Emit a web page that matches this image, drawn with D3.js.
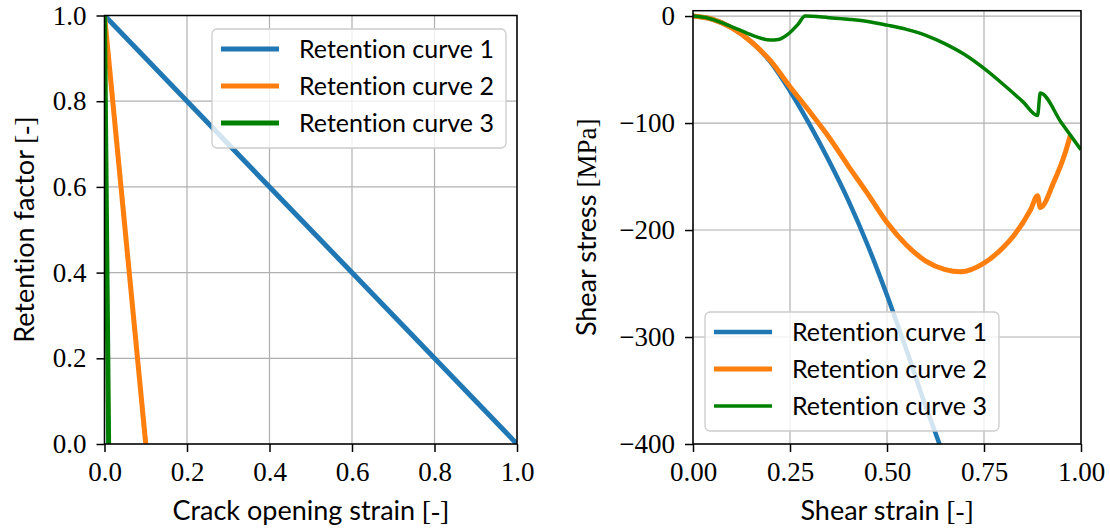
<!DOCTYPE html>
<html>
<head>
<meta charset="utf-8">
<script src="https://cdn.jsdelivr.net/npm/d3@7"></script>
<style>
  body { margin: 0; background: #fff; }
  text { font-variant-ligatures: none; font-feature-settings: "liga" 0; }
  .tick text { font-family: "Liberation Serif", serif; font-size: 27px; fill: #000; }
  .tick line { stroke: #000; stroke-width: 1.5; }
  .label { font-family: "Lato", sans-serif; font-size: 27px; fill: #000; }
  .label .br { font-family: "Liberation Serif", serif; }
  .legend text { font-family: "Lato", sans-serif; font-size: 25px; fill: #000; }
</style>
</head>
<body>
<div id="chart"></div>
<script>
const curveNames = ["Retention curve 1", "Retention curve 2", "Retention curve 3"];
const curveColors = ["#1f77b4", "#ff7f0e", "#008000"];

// left panel: retention factor vs crack opening strain
const retention1 = [[0, 1], [1, 0]];
const retention2 = [[0, 1], [0.1, 0]];
const retention3 = [[0, 1], [0.01, 0]];

// right panel: shear stress vs shear strain
const shear1 = [[0, 0], [0.05, -3], [0.1, -11], [0.15, -24], [0.2, -43], [0.25, -70],
  [0.3, -101], [0.35, -135], [0.4, -172], [0.45, -214], [0.5, -261], [0.55, -312],
  [0.6, -365], [0.635, -400], [0.65, -416]];
const shear2 = [[0, 0], [0.05, -3], [0.1, -11], [0.15, -24], [0.2, -42], [0.25, -66],
  [0.3, -89], [0.35, -113], [0.4, -140], [0.45, -166], [0.5, -193], [0.55, -214],
  [0.6, -229], [0.65, -237], [0.69, -239], [0.75, -231], [0.8, -216], [0.825, -206],
  [0.87, -181], [0.888, -168], [0.895, -179], [0.93, -155], [0.96, -127], [0.973, -111]];
const shear3 = [[0, 0], [0.04, -2], [0.08, -7], [0.12, -13], [0.16, -19], [0.2, -22.5],
  [0.22, -22], [0.245, -17], [0.27, -8], [0.289, 0], [0.35, -1.5], [0.4, -3],
  [0.45, -5], [0.5, -8.5], [0.55, -12.5], [0.6, -18], [0.65, -26], [0.7, -36],
  [0.75, -49], [0.8, -64], [0.85, -80], [0.888, -93], [0.895, -72], [0.95, -100], [1.0, -125]];

const leftXTicks = [0, 0.2, 0.4, 0.6, 0.8, 1.0];
const leftYTicks = [0, 0.2, 0.4, 0.6, 0.8, 1.0];
const rightXTicks = [0, 0.25, 0.5, 0.75, 1.0];
const rightYTicks = [0, -100, -200, -300, -400];

const svg = d3.select("#chart")
    .append("svg")
    .attr("width", 1110)
    .attr("height", 529);

function drawPanel(cfg) {
    const x = d3.scaleLinear().domain(cfg.xDomain).range([cfg.left, cfg.right]);
    const y = d3.scaleLinear().domain(cfg.yDomain).range([cfg.bottom, cfg.top]);
    const g = svg.append("g");

    // grid
    g.append("g").selectAll("line")
        .data(cfg.xTicks)
        .enter().append("line")
        .attr("x1", d => x(d)).attr("x2", d => x(d))
        .attr("y1", cfg.top).attr("y2", cfg.bottom)
        .attr("stroke", "#b0b0b0").attr("stroke-width", 1.2);
    g.append("g").selectAll("line")
        .data(cfg.yTicks)
        .enter().append("line")
        .attr("y1", d => y(d)).attr("y2", d => y(d))
        .attr("x1", cfg.left).attr("x2", cfg.right)
        .attr("stroke", "#b0b0b0").attr("stroke-width", 1.2);

    g.append("clipPath").attr("id", cfg.id + "-clip")
        .append("rect")
        .attr("x", cfg.left).attr("y", cfg.top)
        .attr("width", cfg.right - cfg.left).attr("height", cfg.bottom - cfg.top);

    const line = d3.line()
        .x(d => x(d[0]))
        .y(d => y(d[1]))
        .curve(cfg.curve);

    g.append("g")
        .attr("clip-path", "url(#" + cfg.id + "-clip)")
        .selectAll("path")
        .data(cfg.series)
        .enter().append("path")
        .attr("d", d => line(d))
        .attr("fill", "none")
        .attr("stroke", (d, i) => curveColors[i])
        .attr("stroke-width", (d, i) => cfg.widths[i])
        .attr("stroke-linejoin", "round");

    // frame
    g.append("rect")
        .attr("x", cfg.left).attr("y", cfg.top)
        .attr("width", cfg.right - cfg.left).attr("height", cfg.bottom - cfg.top)
        .attr("fill", "none").attr("stroke", "#000").attr("stroke-width", 1.5);

    g.append("g")
        .attr("transform", "translate(0," + cfg.bottom + ")")
        .call(d3.axisBottom(x).tickValues(cfg.xTicks).tickFormat(cfg.xFormat)
            .tickSize(8).tickPadding(10))
        .call(a => a.select(".domain").remove());

    g.append("g")
        .attr("transform", "translate(" + cfg.left + ",0)")
        .call(d3.axisLeft(y).tickValues(cfg.yTicks).tickFormat(cfg.yFormat)
            .tickSize(8).tickPadding(10))
        .call(a => a.select(".domain").remove());

    // axis labels
    const xl = g.append("text")
        .attr("class", "label")
        .attr("x", (cfg.left + cfg.right) / 2)
        .attr("y", 520)
        .attr("text-anchor", "middle");
    xl.append("tspan").text(cfg.xLabel[0]);
    xl.append("tspan").attr("class", "br").text(cfg.xLabel[1]);

    const yl = g.append("text")
        .attr("class", "label")
        .attr("transform", "translate(" + cfg.yLabelX + "," + (cfg.top + cfg.bottom) / 2 + ") rotate(-90)")
        .attr("text-anchor", "middle");
    yl.append("tspan").text(cfg.yLabel[0]);
    yl.append("tspan").attr("class", "br").text(cfg.yLabel[1]);

    // legend
    const lg = g.append("g")
        .attr("class", "legend")
        .attr("transform", "translate(" + cfg.legendX + "," + cfg.legendY + ")");
    lg.append("rect")
        .attr("width", 294).attr("height", 119)
        .attr("rx", 5)
        .attr("fill", "#fff").attr("fill-opacity", 0.8)
        .attr("stroke", "#cccccc").attr("stroke-width", 1.3);
    const row = lg.selectAll("g.row")
        .data(curveNames)
        .enter().append("g")
        .attr("class", "row")
        .attr("transform", (d, i) => "translate(0," + (20 + i * 37) + ")");
    row.append("line")
        .attr("x1", 9).attr("x2", 67)
        .attr("stroke", (d, i) => curveColors[i])
        .attr("stroke-width", (d, i) => cfg.widths[i]);
    row.append("text")
        .attr("x", 87)
        .attr("y", 9)
        .text(d => d);
}

drawPanel({
    id: "left",
    left: 104.5, right: 517, top: 15.5, bottom: 444,
    xDomain: [0, 1], yDomain: [0, 1],
    xTicks: leftXTicks, yTicks: leftYTicks,
    xFormat: d3.format(".1f"), yFormat: d3.format(".1f"),
    series: [retention1, retention2, retention3],
    widths: [5, 5, 5],
    curve: d3.curveLinear,
    xLabel: ["Crack opening strain ", "[-]"],
    yLabel: ["Retention factor ", "[-]"],
    yLabelX: 34,
    legendX: 212, legendY: 29
});

drawPanel({
    id: "right",
    left: 693, right: 1081, top: 10.7, bottom: 444,
    xDomain: [0, 1], yDomain: [-400, 5],
    xTicks: rightXTicks, yTicks: rightYTicks,
    xFormat: d3.format(".2f"),
    yFormat: d => d === 0 ? "0" : "\u2212" + Math.abs(d),
    series: [shear1, shear2, shear3],
    widths: [4.5, 5, 3.5],
    curve: d3.curveMonotoneX,
    xLabel: ["Shear strain ", "[-]"],
    yLabel: ["Shear stress ", "[MPa]"],
    yLabelX: 596,
    legendX: 705, legendY: 312
});
</script>
</body>
</html>
